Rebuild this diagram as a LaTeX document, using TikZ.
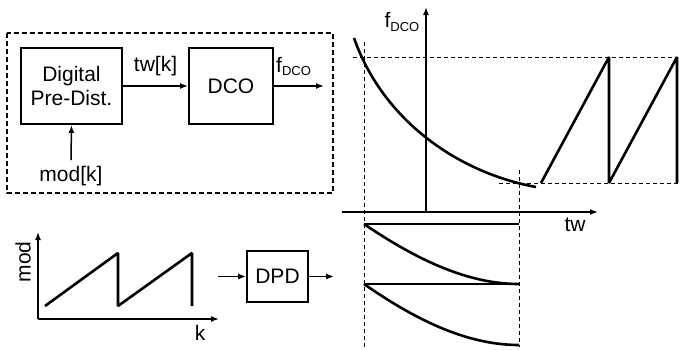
\documentclass[tikz,border=0pt]{standalone}
\usepackage{fontspec}
\setmainfont{Liberation Sans}
\usetikzlibrary{arrows.meta}
\begin{document}
\begin{tikzpicture}[x=1pt,y=-1pt,
  txt/.style={font=\fontsize{21}{24}\selectfont, inner sep=0pt},
  blk/.style={draw, line width=1.9pt, txt, align=center},
  arr/.style={line width=1.5pt, -{Latex[length=8pt,width=6pt]}},
  dsh/.style={line width=0.8pt, dash pattern=on 4pt off 3pt},
  crv/.style={line width=2.6pt},
  saw/.style={line width=2.6pt, line join=miter, miter limit=1.5},
  ax/.style={line width=1.5pt, -{Latex[length=8pt,width=6pt]}}]
\useasboundingbox (0,0) rectangle (680,349);
% top-left dashed box
\draw[line width=1.4pt, dash pattern=on 5pt off 3pt] (7,33) rectangle (333,193);
\node[blk, minimum width=101pt, minimum height=76pt] (dpd1) at (71.5,86) {Digital\\Pre-Dist.};
\node[blk, minimum width=84pt, minimum height=76pt] (dco) at (231,86) {DCO};
\draw[arr] (dpd1.east) -- node[txt, above=9pt] {tw[k]} (dco.west);
\coordinate (fout) at (324,86);
\draw[arr] (dco.east) -- (fout);
\node[txt, anchor=south west] (flab) at (276,76) {f\textsubscript{\fontsize{13}{13}\selectfont DCO}};
\node[txt] (modk) at (71,176) {mod[k]};
\draw[arr] (modk.north) ++(0,-6) -- (dpd1.south);
% right: f_DCO vs tw
\coordinate (o) at (426,212);
\coordinate (ytop) at (426,7);
\coordinate (xl) at (342,212);
\coordinate (xr) at (598,212);
\draw[ax] (o) -- (ytop);
\draw[ax] (xl) -- (xr);
\node[txt, anchor=east] (fax) at (420,22) {f\textsubscript{\fontsize{13}{13}\selectfont DCO}};
\node[txt] (tw) at (575,225) {tw};
% dashed guides
\draw[dsh] (353,57) -- (678,57);
\draw[dsh] (499,183) -- (678,183);
\draw[dsh] (364,42) -- (364,347);
\draw[dsh] (519,170) -- (519,347);
% decaying curve
\draw[crv] (354,38) .. controls (382,118) and (455,172) .. (536,187);
% sawtooth right
\draw[saw] (541,183) -- (609,57) -- (609,183) -- (677,57) -- (677,183);
% bottom curves
\draw[crv] (364,224) -- (519,224);
\draw[crv] (364,224) .. controls (420,262) and (470,284) .. (519,284);
\draw[crv] (364,284) -- (519,284);
\draw[crv] (364,284) .. controls (420,323) and (470,345) .. (519,345);
% bottom-left mod plot
\draw[ax] (38,319) -- (38,232);
\draw[ax] (38,319) -- (219,319);
\node[txt, rotate=90] (modl) at (23,262) {mod};
\node[txt] (kl) at (200,333) {k};
\draw[saw] (45,306) -- (118,253) -- (118,306) -- (192,253) -- (192,306);
% DPD block
\node[blk, minimum width=61pt, minimum height=51pt] (dpd2) at (277.5,276.5) {DPD};
\coordinate (din) at (218,276.5);
\coordinate (dout) at (334,276.5);
\draw[arr] (din) -- (dpd2.west);
\draw[arr] (dpd2.east) -- (dout);
\end{tikzpicture}
\end{document}
